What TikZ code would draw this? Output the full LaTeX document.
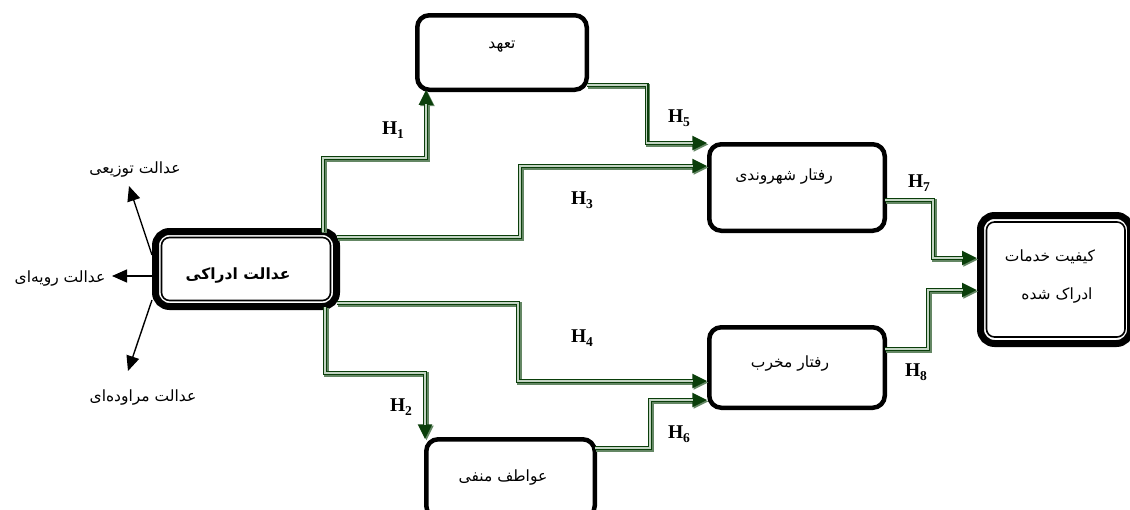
\documentclass[tikz,border=0pt]{standalone}
\usepackage{fontspec}
\usetikzlibrary{arrows.meta}
\newfontfamily\fa[Script=Arabic]{DejaVu Sans}
\newfontfamily\tnr{Liberation Serif}
\TeXXeTstate=1
\definecolor{dg}{RGB}{10,62,10}
\definecolor{sh}{RGB}{100,135,100}
\definecolor{inl}{RGB}{195,212,195}
\newcommand\hlab[1]{{\tnr\bfseries\fontsize{19.5}{19.5}\selectfont H\raisebox{-3.5pt}{\fontsize{13.5}{13.5}\selectfont #1}}}
\begin{document}
\begin{tikzpicture}[x=1pt,y=-1pt,
  box/.style={draw, line width=4.5pt, rounded corners=12pt, inner sep=0pt, outer sep=0pt},
  dbox/.style={draw, line width=7pt, rounded corners=14pt, inner sep=0pt, outer sep=0pt},
  inline/.style={line width=1.6pt, rounded corners=8pt},
  txt/.style={font=\fa\fontsize{15.5}{18}\selectfont},
  conn/.style={draw=dg, line width=4.2pt, -{Triangle[length=15pt,width=13.5pt]},
    preaction={draw=sh, line width=4.2pt, transform canvas={shift={(1.4pt,-1.4pt)}}},
    postaction={draw=inl, line width=1.1pt, arrows=-, shorten >=14pt}},
  thinarr/.style={line width=1.4pt, -{Triangle[length=15pt,width=13pt]}},
  hl/.style={inner sep=0pt}
]
\useasboundingbox (0,0) rectangle (1130,509);
\clip (0,0) rectangle (1130,509);

% boxes
\node[dbox, minimum width=181pt, minimum height=75pt] (m) at (246,269) {};
\node[inner sep=0pt, font=\fa\fontsize{15.5}{18}\selectfont\bfseries] (mt) at (238,275) {\beginR عدالت ادراکی\endR};
\draw[inline] ([shift={(6pt,-6pt)}]m.north west) rectangle ([shift={(-6pt,6pt)}]m.south east);

\node[box, minimum width=169.5pt, minimum height=74.5pt] (t) at (502,52.5) {};
\node[txt, inner sep=0pt] (tt) at (502,47) {\beginR تعهد\endR};
\node[box, minimum width=175.5pt, minimum height=86.5pt] (s) at (797,187.5) {};
\node[txt, inner sep=0pt] (st) at (784,177) {\beginR رفتار شهروندی\endR};
\node[box, minimum width=175.5pt, minimum height=80.5pt] (k) at (797,367.5) {};
\node[txt, inner sep=0pt] (kt) at (790,363) {\beginR رفتار مخرب\endR};
\node[box, minimum width=168.5pt, minimum height=78.5pt] (n) at (510.5,478.5) {};
\node[txt, inner sep=0pt] (nt) at (503,477) {\beginR عواطف منفی\endR};
\node[dbox, minimum width=150pt, minimum height=128pt] (q) at (1055.5,279.5) {};
\draw[inline] ([shift={(6pt,-6.5pt)}]q.north west) rectangle ([shift={(-5.5pt,6.5pt)}]q.south east);
\node[txt, inner sep=0pt] (q1) at (1050,257) {\beginR کیفیت خدمات\endR};
\node[txt, inner sep=0pt] (q2) at (1057,295) {\beginR ادراک شده\endR};

% left dimension labels
\node[txt, inner sep=0pt] (l1) at (135,170) {\beginR عدالت توزیعی\endR};
\node[txt, inner sep=0pt] (l2) at (60,278) {\beginR عدالت رویه‌ای\endR};
\node[txt, inner sep=0pt] (l3) at (143,397) {\beginR عدالت مراوده‌ای\endR};
\coordinate (e1) at (129,186);
\coordinate (e2) at (112,276);
\coordinate (e3) at (128,371);
\draw[thinarr] ([xshift=-3.5pt,yshift=14pt]m.west) -- (e1);
\draw[thinarr] ([xshift=-3.5pt,yshift=-7pt]m.west) -- (e2);
\draw[thinarr] ([xshift=-3.5pt,yshift=-31pt]m.west) -- (e3);

% connectors
\draw[conn] ([xshift=-13.5pt]m.north east) -- ++(0,-73.5) -| ([xshift=8.75pt]t.south west);
\draw[conn] ([yshift=-5.5pt]m.north east) -- ++(183.5,0) |- ([xshift=-2pt,yshift=21.5pt]s.west);
\draw[conn] ([yshift=3.5pt]m.south east) -- ++(181.5,0) |- ([xshift=-2pt,yshift=-13.5pt]k.west);
\draw[conn] ([xshift=-11.5pt]m.south east) -- ++(0,66.5) -| ([xshift=-1.25pt]n.north west);
\draw[conn] ([yshift=4.75pt]t.south east) -- ++(60,0) |- ([xshift=-2pt,yshift=1.25pt]s.north west);
\draw[conn] ([yshift=-8.75pt]n.north east) -- ++(55.25,0) |- ([xshift=-2pt,yshift=7.75pt]k.south west);
\draw[conn] ([yshift=-12.5pt]s.east) -- ++(48.25,0) |- ([xshift=-3.5pt,yshift=21.5pt]q.west);
\draw[conn] ([yshift=18.5pt]k.east) -- ++(43.25,0) |- ([xshift=-3.5pt,yshift=-10.5pt]q.west);

% hypothesis labels
\node[hl] (h1) at (393,130) {\hlab{1}};
\node[hl] (h2) at (401,407) {\hlab{2}};
\node[hl] (h3) at (582,200) {\hlab{3}};
\node[hl] (h4) at (582,338) {\hlab{4}};
\node[hl] (h5) at (679,118) {\hlab{5}};
\node[hl] (h6) at (679,434) {\hlab{6}};
\node[hl] (h7) at (919,183) {\hlab{7}};
\node[hl] (h8) at (916,372) {\hlab{8}};
\end{tikzpicture}
\end{document}
